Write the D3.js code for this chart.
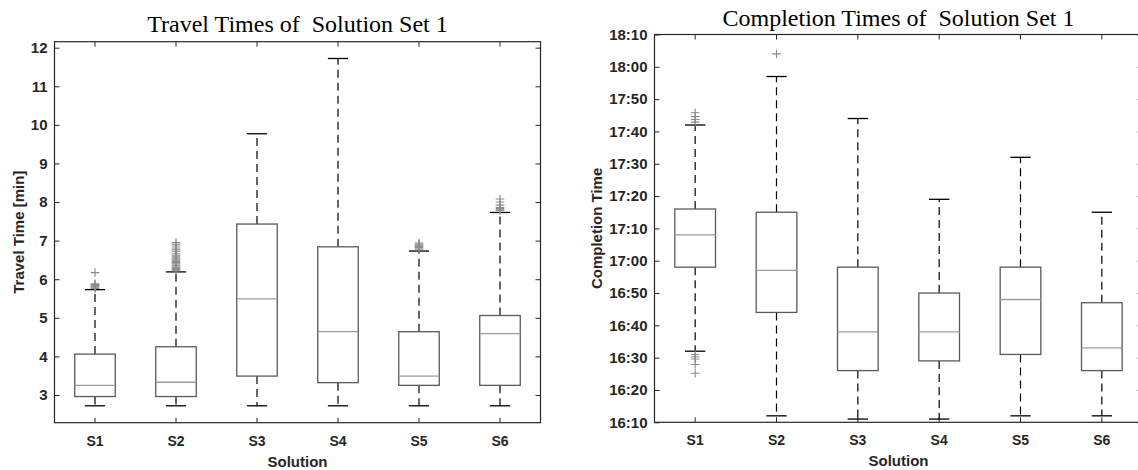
<!DOCTYPE html>
<html>
<head>
<meta charset="utf-8">
<script src="https://cdn.jsdelivr.net/npm/d3@7"></script>
<style>
  body { margin: 0; background: #fff; }
  svg { display: block; }
</style>
</head>
<body>
<div id="chart"></div>
<script>
// categories shared by both panels
const solutions = ["S1", "S2", "S3", "S4", "S5", "S6"];

// Travel times [min] - whisker low, q1, median, q3, whisker high
const travelLow    = [2.72, 2.72, 2.72, 2.72, 2.72, 2.72];
const travelQ1     = [2.96, 2.96, 3.49, 3.32, 3.25, 3.25];
const travelMedian = [3.25, 3.33, 5.49, 4.64, 3.49, 4.59];
const travelQ3     = [4.06, 4.25, 7.43, 6.84, 4.64, 5.06];
const travelHigh   = [5.73, 6.19, 9.77, 11.72, 6.73, 7.73];
const travelOutliers = [
  [5.76, 5.78, 5.80, 5.82, 5.84, 5.86, 5.88, 6.17],
  [6.22, 6.25, 6.28, 6.31, 6.34, 6.37, 6.40, 6.43, 6.46, 6.49, 6.52, 6.55, 6.58, 6.62, 6.66, 6.71, 6.76, 6.81, 6.86, 6.91, 6.95],
  [],
  [],
  [6.78, 6.82, 6.85, 6.88, 6.91, 6.94],
  [7.78, 7.80, 7.83, 7.86, 7.92, 8.00, 8.08]
];
const travelTicks = [3, 4, 5, 6, 7, 8, 9, 10, 11, 12];

// Completion times (clock time)
const complLow    = ["16:32:00", "16:12:00", "16:11:00", "16:11:00", "16:12:00", "16:12:00"];
const complQ1     = ["16:58:00", "16:44:00", "16:26:00", "16:29:00", "16:31:00", "16:26:00"];
const complMedian = ["17:08:00", "16:57:00", "16:38:00", "16:38:00", "16:48:00", "16:33:00"];
const complQ3     = ["17:16:00", "17:15:00", "16:58:00", "16:50:00", "16:58:00", "16:47:00"];
const complHigh   = ["17:42:00", "17:57:00", "17:44:00", "17:19:00", "17:32:00", "17:15:00"];
const complOutliers = [
  ["17:42:54", "17:43:42", "17:44:36", "17:45:48", "16:31:00", "16:30:18", "16:29:36", "16:27:54", "16:25:12"],
  ["18:04:00"],
  [],
  [],
  [],
  []
];
const complRange = ["16:10:00", "18:10:00"];

const W = 1138, H = 470;
const ink = "#262626";
const boxColor = "#5a5a5a";
const medianColor = "#9c9c9c";
const outlierColor = "#8c8c8c";

const svg = d3.select("#chart").append("svg")
  .attr("width", W)
  .attr("height", H);

const parseT = d3.timeParse("%H:%M:%S");

function drawPanel(opt) {
  const g = svg.append("g").attr("transform", `translate(${opt.left},${opt.top})`);
  const width = opt.width, height = opt.height;

  const x = d3.scaleBand().domain(solutions).range([0, width]);
  const step = x.step();
  const cx = d => x(d) + step / 2;
  const y = opt.y.range([height, 0]);

  // axes: ticks pointing inward like matlab
  const yAxis = g.append("g")
    .call(d3.axisLeft(y).tickValues(opt.ticks).tickFormat(opt.fmt).tickSizeInner(-5).tickSizeOuter(0).tickPadding(7));
  const yAxisR = g.append("g")
    .attr("transform", `translate(${width},0)`)
    .call(d3.axisRight(y).tickValues(opt.ticks).tickFormat("").tickSizeInner(-5).tickSizeOuter(0));
  const xAxis = g.append("g")
    .attr("transform", `translate(0,${height})`)
    .call(d3.axisBottom(x).tickSizeInner(-5).tickSizeOuter(0).tickPadding(13));
  const xAxisT = g.append("g")
    .call(d3.axisTop(x).tickFormat("").tickSizeInner(-5).tickSizeOuter(0));

  [yAxis, yAxisR, xAxis, xAxisT].forEach(a => {
    a.select(".domain").remove();
    a.selectAll("line").attr("stroke", ink);
    a.selectAll("text")
      .attr("fill", ink)
      .style("font-family", "'Liberation Sans', Arial, sans-serif")
      .style("font-weight", "bold")
      .style("font-size", "15px");
  });
  xAxis.selectAll("text").style("font-size", "14px");

  // frame
  g.append("rect")
    .attr("width", width).attr("height", height)
    .attr("fill", "none").attr("stroke", ink).attr("stroke-width", 1.2);

  const rows = solutions.map((s, i) => ({
    s, lo: opt.low[i], q1: opt.q1[i], med: opt.median[i], q3: opt.q3[i], hi: opt.high[i], out: opt.outliers[i]
  }));

  const bw = step * 0.5, cw = step * 0.25;

  // whiskers
  g.selectAll(".wu").data(rows).enter().append("line")
    .attr("x1", d => cx(d.s)).attr("x2", d => cx(d.s))
    .attr("y1", d => y(d.q3)).attr("y2", d => y(d.hi))
    .attr("stroke", "#000").attr("stroke-width", 1.2).attr("stroke-dasharray", "8,5");
  g.selectAll(".wl").data(rows).enter().append("line")
    .attr("x1", d => cx(d.s)).attr("x2", d => cx(d.s))
    .attr("y1", d => y(d.q1)).attr("y2", d => y(d.lo))
    .attr("stroke", "#000").attr("stroke-width", 1.2).attr("stroke-dasharray", "8,5");

  // caps
  ["hi", "lo"].forEach(k => {
    g.selectAll(".cap-" + k).data(rows).enter().append("line")
      .attr("x1", d => cx(d.s) - cw / 2).attr("x2", d => cx(d.s) + cw / 2)
      .attr("y1", d => y(d[k])).attr("y2", d => y(d[k]))
      .attr("stroke", "#000").attr("stroke-width", 1.3);
  });

  // boxes
  g.selectAll(".box").data(rows).enter().append("rect")
    .attr("x", d => cx(d.s) - bw / 2)
    .attr("width", bw)
    .attr("y", d => y(d.q3))
    .attr("height", d => y(d.q1) - y(d.q3))
    .attr("fill", "#fff")
    .attr("stroke", boxColor).attr("stroke-width", 1.3);

  // medians
  g.selectAll(".med").data(rows).enter().append("line")
    .attr("x1", d => cx(d.s) - bw / 2).attr("x2", d => cx(d.s) + bw / 2)
    .attr("y1", d => y(d.med)).attr("y2", d => y(d.med))
    .attr("stroke", medianColor).attr("stroke-width", 1.3);

  // outliers as '+'
  const pts = [];
  rows.forEach(r => r.out.forEach(v => pts.push({ s: r.s, v })));
  const ps = 4.3;
  g.selectAll(".out").data(pts).enter().append("path")
    .attr("d", d => {
      const px = cx(d.s), py = y(d.v);
      return `M${px - ps},${py}H${px + ps}M${px},${py - ps}V${py + ps}`;
    })
    .attr("stroke", outlierColor).attr("stroke-width", 1.1).attr("fill", "none");

  // title
  g.append("text")
    .attr("x", width / 2).attr("y", opt.titleY)
    .attr("text-anchor", "middle")
    .style("font-family", "'Liberation Serif', 'Times New Roman', serif")
    .style("font-size", "24px")
    .style("white-space", "pre")
    .attr("fill", "#000")
    .text(opt.title);

  // axis labels
  g.append("text")
    .attr("x", width / 2).attr("y", height + 44)
    .attr("text-anchor", "middle")
    .style("font-family", "'Liberation Sans', Arial, sans-serif")
    .style("font-weight", "bold").style("font-size", "15px")
    .attr("fill", ink)
    .text("Solution");

  g.append("text")
    .attr("transform", `translate(${opt.ylabX},${height / 2}) rotate(-90)`)
    .attr("text-anchor", "middle")
    .style("font-family", "'Liberation Sans', Arial, sans-serif")
    .style("font-weight", "bold").style("font-size", "15px")
    .attr("fill", ink)
    .text(opt.ylabel);
}

drawPanel({
  left: 54.5, top: 41.7, width: 486, height: 381,
  y: d3.scaleLinear().domain([2.282, 12.155]),
  ticks: travelTicks, fmt: d3.format("d"),
  low: travelLow, q1: travelQ1, median: travelMedian, q3: travelQ3, high: travelHigh,
  outliers: travelOutliers,
  title: "Travel Times of  Solution Set 1", titleY: -10,
  ylabel: "Travel Time [min]", ylabX: -31
});

const tLow = complLow.map(parseT), tQ1 = complQ1.map(parseT), tMed = complMedian.map(parseT),
      tQ3 = complQ3.map(parseT), tHigh = complHigh.map(parseT),
      tOut = complOutliers.map(a => a.map(parseT));
const tDomain = complRange.map(parseT);

drawPanel({
  left: 654.5, top: 34.5, width: 488, height: 387.8,
  y: d3.scaleTime().domain(tDomain),
  ticks: d3.timeMinute.every(10).range(tDomain[0], d3.timeMinute.offset(tDomain[1], 1)),
  fmt: d3.timeFormat("%H:%M"),
  low: tLow, q1: tQ1, median: tMed, q3: tQ3, high: tHigh,
  outliers: tOut,
  title: "Completion Times of  Solution Set 1", titleY: -9,
  ylabel: "Completion Time", ylabX: -53
});
</script>
</body>
</html>
